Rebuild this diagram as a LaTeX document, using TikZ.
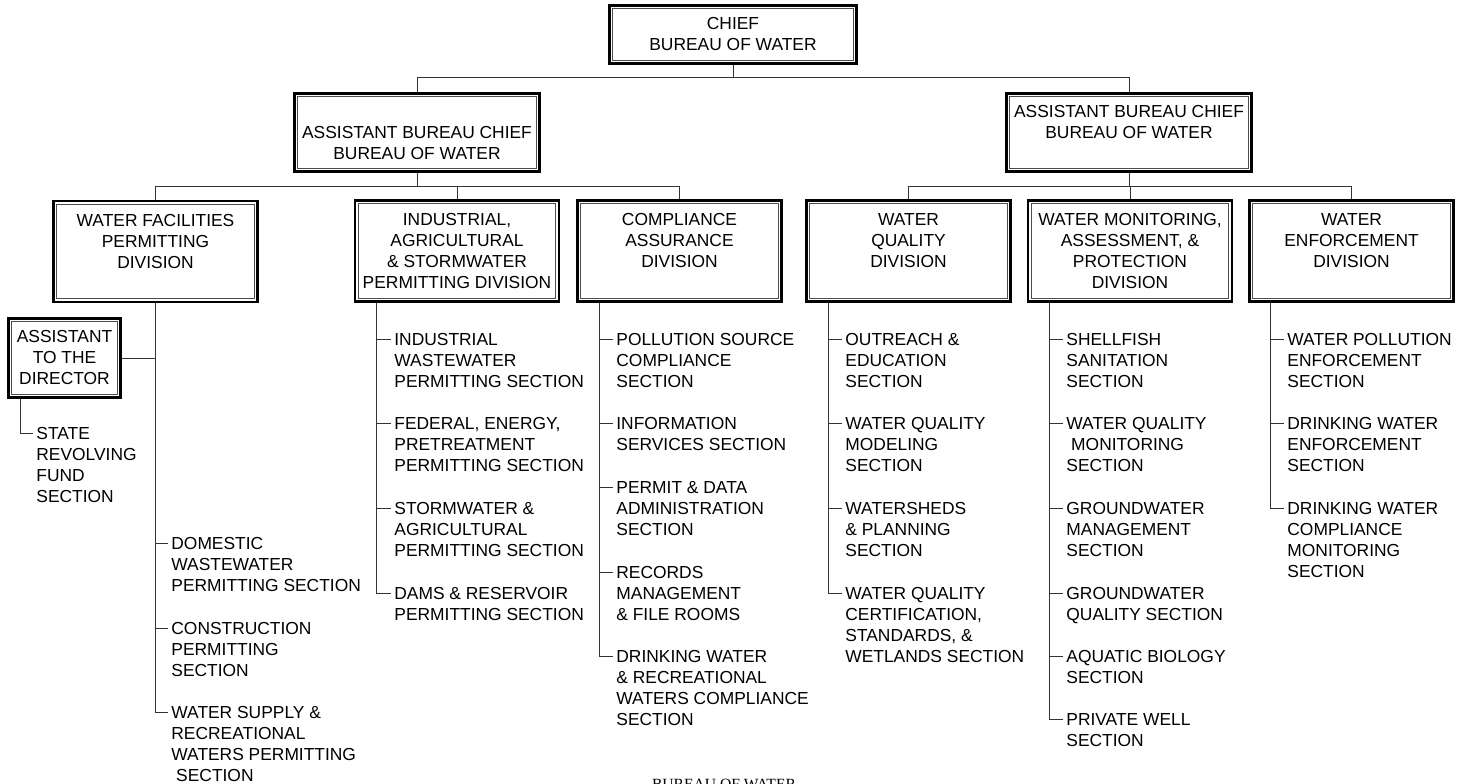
\documentclass[tikz,border=0pt]{standalone}
\usepackage{fontspec}
\setmainfont{Liberation Sans}
\newfontfamily\footserif{Liberation Serif}
\usepackage{tikz}

\newcommand{\orgfont}{\fontsize{8.7pt}{10.5pt}\selectfont}

\tikzset{
  orgbox/.style={draw=black, line width=1.4pt, fill=white, align=center,
    inner sep=0pt, font=\orgfont,
    path picture={\draw[black!70, line width=0.4pt]
      ([shift={(1.6pt,-1.6pt)}]path picture bounding box.north west) rectangle
      ([shift={(-1.6pt,1.6pt)}]path picture bounding box.south east);}},
  chiefbox/.style={orgbox, minimum width=123.5pt, minimum height=29pt},
  asstbox/.style={orgbox, minimum width=122.5pt, minimum height=39pt},
  divbox/.style={orgbox, minimum width=102pt, minimum height=50.5pt},
  dirbox/.style={orgbox, minimum width=56pt, minimum height=39.5pt},
  secitem/.style={anchor=north west, align=left, inner xsep=1.5pt,
    inner ysep=0pt, font=\orgfont},
  orgline/.style={draw=black!80, line width=0.5pt},
}

\begin{document}
\begin{tikzpicture}[x=0.5pt,y=-0.5pt]
  \fill[white] (0,0) rectangle (1462,783);
  \useasboundingbox (0,0) rectangle (1462,783);

  % chief and the two assistants
  \node[chiefbox] (chief) at (733,34.5) {CHIEF\\BUREAU OF WATER};
  \node[asstbox] (lasst) at (417,132.5) {\vphantom{A}\\ASSISTANT BUREAU CHIEF\\BUREAU OF WATER};
  \node[asstbox] (rasst) at (1129,132.5) {ASSISTANT BUREAU CHIEF\\BUREAU OF WATER\\\vphantom{A}};

  % divisions
  \node[divbox] (wfac) at (155.5,251.5) {WATER FACILITIES\\PERMITTING\\DIVISION\\\vphantom{A}};
  \node[divbox] (ind) at (457,251) {INDUSTRIAL,\\AGRICULTURAL\\\& STORMWATER\\PERMITTING DIVISION};
  \node[divbox] (comp) at (679.5,251) {COMPLIANCE\\ASSURANCE\\DIVISION\\\vphantom{A}};
  \node[divbox] (wq) at (908.5,251) {WATER\\QUALITY\\DIVISION\\\vphantom{A}};
  \node[divbox] (mon) at (1130,251) {WATER MONITORING,\\ASSESSMENT, \&\\PROTECTION\\DIVISION};
  \node[divbox] (enf) at (1351.5,251) {WATER\\ENFORCEMENT\\DIVISION\\\vphantom{A}};
  \node[dirbox] (dir) at (64.5,358) {ASSISTANT\\TO THE\\DIRECTOR};

  % sections
  \node[secitem] (srf) at (33,427) {STATE\\REVOLVING\\FUND\\SECTION};
  \node[secitem] (dom) at (168,537) {DOMESTIC\\WASTEWATER\\PERMITTING SECTION};
  \node[secitem] (cons) at (168,622) {CONSTRUCTION\\PERMITTING\\SECTION};
  \node[secitem] (wsup) at (168,706) {WATER SUPPLY \&\\RECREATIONAL\\WATERS PERMITTING\\\ SECTION};

  \node[secitem] (ind1) at (391,333) {INDUSTRIAL\\WASTEWATER\\PERMITTING SECTION};
  \node[secitem] (ind2) at (391,417) {FEDERAL, ENERGY,\\PRETREATMENT\\PERMITTING SECTION};
  \node[secitem] (ind3) at (391,502) {STORMWATER \&\\AGRICULTURAL\\PERMITTING SECTION};
  \node[secitem] (ind4) at (391,587) {DAMS \& RESERVOIR\\PERMITTING SECTION};

  \node[secitem] (comp1) at (613,333) {POLLUTION SOURCE\\COMPLIANCE\\SECTION};
  \node[secitem] (comp2) at (613,417) {INFORMATION\\SERVICES SECTION};
  \node[secitem] (comp3) at (613,481) {PERMIT \& DATA\\ADMINISTRATION\\SECTION};
  \node[secitem] (comp4) at (613,566) {RECORDS\\MANAGEMENT\\\& FILE ROOMS};
  \node[secitem] (comp5) at (613,650) {DRINKING WATER\\\& RECREATIONAL\\WATERS COMPLIANCE\\SECTION};

  \node[secitem] (wq1) at (842,333) {OUTREACH \&\\EDUCATION\\SECTION};
  \node[secitem] (wq2) at (842,417) {WATER QUALITY\\MODELING\\SECTION};
  \node[secitem] (wq3) at (842,502) {WATERSHEDS\\\& PLANNING\\SECTION};
  \node[secitem] (wq4) at (842,587) {WATER QUALITY\\CERTIFICATION,\\STANDARDS, \&\\WETLANDS SECTION};

  \node[secitem] (mon1) at (1063,333) {SHELLFISH\\SANITATION\\SECTION};
  \node[secitem] (mon2) at (1063,417) {WATER QUALITY\\\ MONITORING\\SECTION};
  \node[secitem] (mon3) at (1063,502) {GROUNDWATER\\MANAGEMENT\\SECTION};
  \node[secitem] (mon4) at (1063,587) {GROUNDWATER\\QUALITY SECTION};
  \node[secitem] (mon5) at (1063,650) {AQUATIC BIOLOGY\\SECTION};
  \node[secitem] (mon6) at (1063,713) {PRIVATE WELL\\SECTION};

  \node[secitem] (enf1) at (1284,333) {WATER POLLUTION\\ENFORCEMENT\\SECTION};
  \node[secitem] (enf2) at (1284,417) {DRINKING WATER\\ENFORCEMENT\\SECTION};
  \node[secitem] (enf3) at (1284,502) {DRINKING WATER\\COMPLIANCE\\MONITORING\\SECTION};

  \node[font=\footserif\fontsize{7.8pt}{9pt}\selectfont, anchor=base, inner sep=0pt] (foot) at (724,789) {BUREAU OF WATER};

  % links between the boxes
  \draw[orgline] (chief.south) -- ++(0,13) -| (lasst.north);
  \draw[orgline] (chief.south) -- ++(0,13) -| (rasst.north);
  \draw[orgline] (lasst.south) -- ++(0,14) -| (wfac.north);
  \draw[orgline] (lasst.south) -- ++(0,14) -| (ind.north);
  \draw[orgline] (lasst.south) -- ++(0,14) -| (comp.north);
  \draw[orgline] (rasst.south) -- ++(0,14) -| (wq.north);
  \draw[orgline] (rasst.south) -- ++(0,14) -| (mon.north);
  \draw[orgline] (rasst.south) -- ++(0,14) -| (enf.north);
  \draw[orgline] (dir.east) -- (wfac.south |- dir.east);

  % stems down to the sections
  \coordinate (dirstem) at ([xshift=6.75pt]dir.south west);
  \coordinate (indstem) at ([xshift=11.5pt]ind.south west);
  \coordinate (compstem) at ([xshift=11.5pt]comp.south west);
  \coordinate (wqstem) at ([xshift=11.5pt]wq.south west);
  \coordinate (monstem) at ([xshift=11.5pt]mon.south west);
  \coordinate (enfstem) at ([xshift=11pt]enf.south west);

  \draw[orgline] (dirstem) |- ([yshift=-3.1pt]srf.north west);
  \draw[orgline] (wfac.south) |- ([yshift=-3.1pt]dom.north west);
  \draw[orgline] (wfac.south) |- ([yshift=-3.1pt]cons.north west);
  \draw[orgline] (wfac.south) |- ([yshift=-3.1pt]wsup.north west);

  \draw[orgline] (indstem) |- ([yshift=-3.1pt]ind1.north west);
  \draw[orgline] (indstem) |- ([yshift=-3.1pt]ind2.north west);
  \draw[orgline] (indstem) |- ([yshift=-3.1pt]ind3.north west);
  \draw[orgline] (indstem) |- ([yshift=-3.1pt]ind4.north west);

  \draw[orgline] (compstem) |- ([yshift=-3.1pt]comp1.north west);
  \draw[orgline] (compstem) |- ([yshift=-3.1pt]comp2.north west);
  \draw[orgline] (compstem) |- ([yshift=-3.1pt]comp3.north west);
  \draw[orgline] (compstem) |- ([yshift=-3.1pt]comp4.north west);
  \draw[orgline] (compstem) |- ([yshift=-3.1pt]comp5.north west);

  \draw[orgline] (wqstem) |- ([yshift=-3.1pt]wq1.north west);
  \draw[orgline] (wqstem) |- ([yshift=-3.1pt]wq2.north west);
  \draw[orgline] (wqstem) |- ([yshift=-3.1pt]wq3.north west);
  \draw[orgline] (wqstem) |- ([yshift=-3.1pt]wq4.north west);

  \draw[orgline] (monstem) |- ([yshift=-3.1pt]mon1.north west);
  \draw[orgline] (monstem) |- ([yshift=-3.1pt]mon2.north west);
  \draw[orgline] (monstem) |- ([yshift=-3.1pt]mon3.north west);
  \draw[orgline] (monstem) |- ([yshift=-3.1pt]mon4.north west);
  \draw[orgline] (monstem) |- ([yshift=-3.1pt]mon5.north west);
  \draw[orgline] (monstem) |- ([yshift=-3.1pt]mon6.north west);

  \draw[orgline] (enfstem) |- ([yshift=-3.1pt]enf1.north west);
  \draw[orgline] (enfstem) |- ([yshift=-3.1pt]enf2.north west);
  \draw[orgline] (enfstem) |- ([yshift=-3.1pt]enf3.north west);
\end{tikzpicture}
\end{document}
